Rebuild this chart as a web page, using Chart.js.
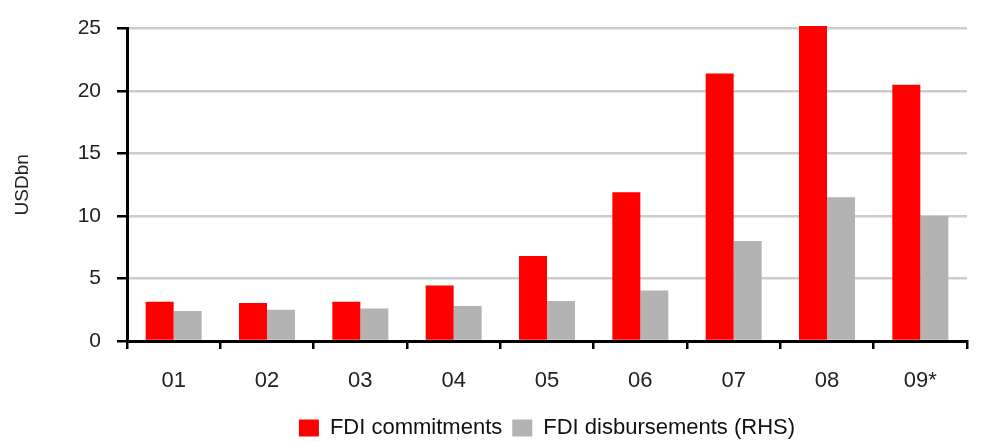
<!DOCTYPE html>
<html>
<head>
<meta charset="utf-8">
<script src="https://cdn.jsdelivr.net/npm/chart.js@4"></script>
<style>
  html, body { margin: 0; padding: 0; background: #fff; }
  canvas { display: block; }
</style>
</head>
<body>
<canvas id="fdi" width="991" height="441"></canvas>
<script>
// values, USD bn
const years = ["01", "02", "03", "04", "05", "06", "07", "08", "09*"]
const commitments = [3.15, 3.05, 3.15, 4.45, 6.8, 11.9, 21.4, 25.2, 20.5]
const disbursements = [2.4, 2.5, 2.6, 2.8, 3.2, 4.05, 8.0, 11.5, 10.0]
const yTicks = [0, 5, 10, 15, 20, 25]

const font = "'Liberation Sans', Arial, sans-serif"

const chart = new Chart(document.getElementById("fdi"), {
  type: "bar",
  data: {
    labels: years,
    datasets: [
      {
        label: "FDI commitments",
        data: commitments,
        backgroundColor: "#ff0000",
        borderWidth: 0,
        clip: false,
        categoryPercentage: 0.6,
        barPercentage: 1.0
      },
      {
        label: "FDI disbursements (RHS)",
        data: disbursements,
        backgroundColor: "#b3b3b3",
        borderWidth: 0,
        clip: false,
        categoryPercentage: 0.6,
        barPercentage: 1.0
      }
    ]
  },
  options: {
    responsive: false,
    animation: false,
    devicePixelRatio: 1,
    // legend box carries 10px of empty space under its row, pull it back
    layout: { padding: { left: 0, right: 24, top: 23, bottom: -8 } },
    scales: {
      x: {
        grid: {
          display: true,
          drawOnChartArea: false,
          offset: true,
          color: "#000",
          lineWidth: 2.5,
          tickLength: 8
        },
        border: { display: true, color: "#000", width: 3 },
        ticks: {
          color: "#222",
          padding: 19,
          font: { family: font, size: 22 }
        },
        afterFit: s => { s.height = 66 }
      },
      y: {
        min: 0,
        max: 25,
        afterBuildTicks: s => { s.ticks = yTicks.map(v => ({ value: v })) },
        grid: {
          color: "#cccccc",
          lineWidth: 2.5,
          tickColor: "#000",
          tickLength: 10,
          tickWidth: 2.5
        },
        border: { display: true, color: "#000", width: 3 },
        ticks: {
          color: "#222",
          padding: 16,
          font: { family: font, size: 21 }
        },
        title: {
          display: true,
          text: "USDbn",
          color: "#222",
          padding: { top: 11, bottom: 0 },
          font: { family: font, size: 19 }
        },
        afterFit: s => { s.width = 127 }
      }
    },
    plugins: {
      legend: {
        position: "bottom",
        fullSize: false,
        labels: {
          color: "#111",
          boxWidth: 20,
          boxHeight: 17,
          padding: 10,
          font: { family: font, size: 22 }
        }
      },
      tooltip: { enabled: false }
    }
  }
})
</script>
</body>
</html>
